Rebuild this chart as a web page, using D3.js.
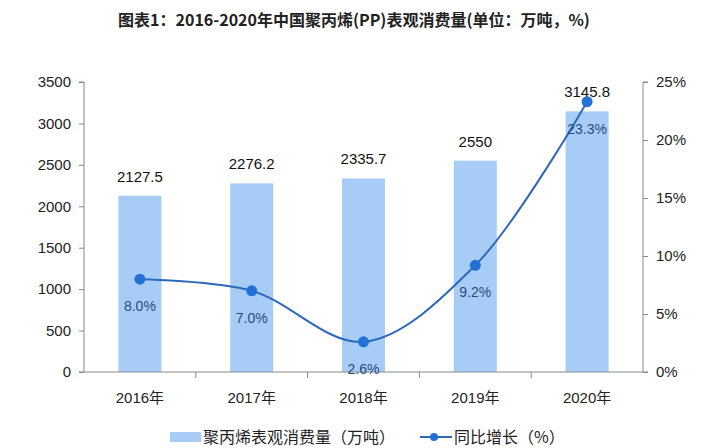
<!DOCTYPE html>
<html><head><meta charset="utf-8">
<script src="https://cdn.jsdelivr.net/npm/d3@7/dist/d3.min.js"></script>
<style>
html,body{margin:0;padding:0;background:#fff;}
svg{display:block;font-family:"Liberation Sans",Arial,"Noto Sans CJK SC",sans-serif;}
</style></head>
<body>
<svg id="chart" width="710" height="448"></svg>
<script>
const categories = ["2016年","2017年","2018年","2019年","2020年"];
const consumption = [2127.5, 2276.2, 2335.7, 2550, 3145.8];
const growth = [8.0, 7.0, 2.6, 9.2, 23.3];
const leftTicks = [0,500,1000,1500,2000,2500,3000,3500];
const rightTicks = [0,5,10,15,20,25];
const title = "图表1：2016-2020年中国聚丙烯(PP)表观消费量(单位：万吨，%)";
const legendBar = "聚丙烯表观消费量（万吨）";
const legendLine = "同比增长（%）";

const svg = d3.select("#chart");
const m = {left:84, right:643, top:82, bottom:372};

const xc = d3.scaleBand().domain(categories).range([m.left, m.right]);
const yL = d3.scaleLinear().domain([0,3500]).range([m.bottom, m.top]);
const yR = d3.scaleLinear().domain([0,25]).range([m.bottom, m.top]);

svg.append("text").attr("x",354).attr("y",26).attr("text-anchor","middle")
  .attr("font-family","'Noto Sans CJK SC',sans-serif").attr("font-weight","bold")
  .attr("font-size",16).attr("fill","#222").text(title);

// bars
svg.append("g").selectAll("rect").data(consumption).join("rect")
  .attr("x",(d,i)=>xc(categories[i])+xc.bandwidth()/2-21.5)
  .attr("width",43)
  .attr("y",d=>yL(d)).attr("height",d=>yL(0)-yL(d))
  .attr("fill","#a7cdf6");

// left axis
const gl = svg.append("g").attr("transform",`translate(${m.left},0)`)
  .call(d3.axisLeft(yL).tickValues(leftTicks).tickSize(5).tickPadding(8).tickFormat(d3.format("d")));
// right axis
const gr = svg.append("g").attr("transform",`translate(${m.right},0)`)
  .call(d3.axisRight(yR).tickValues(rightTicks).tickSize(5).tickPadding(8).tickFormat(d=>d+"%"));
// bottom axis
const gb = svg.append("g").attr("transform",`translate(0,${m.bottom})`)
  .call(d3.axisBottom(xc).tickSize(0).tickPadding(20));
gb.append("g").selectAll("line").data(d3.range(1,categories.length)).join("line")
  .attr("x1",i=>m.left+i*xc.step()).attr("x2",i=>m.left+i*xc.step())
  .attr("y1",0).attr("y2",6).attr("stroke","#888");
[gl,gr,gb].forEach(g=>{
  g.select(".domain").attr("stroke","#888");
  g.selectAll(".tick line").attr("stroke","#888");
  g.selectAll("text").attr("font-size",15).attr("fill","#222")
   .attr("font-family","'Liberation Sans',Arial,'Noto Sans CJK SC',sans-serif");
});
gl.select(".domain").attr("d",`M-5,${m.top}H0V${m.bottom}H-5`);
gr.select(".domain").attr("d",`M5,${m.top}H0V${m.bottom}H5`);
gb.select(".domain").attr("d",`M${m.left},0H${m.right}`);

// value labels
svg.append("g").selectAll("text").data(consumption).join("text")
  .attr("x",(d,i)=>xc(categories[i])+xc.bandwidth()/2)
  .attr("y",d=>yL(d)-14).attr("text-anchor","middle")
  .attr("font-size",15).attr("fill","#111").text(d=>d);

// line
const pts = growth.map((g,i)=>[xc(categories[i])+xc.bandwidth()/2, yR(g)]);
svg.append("path").attr("d",d3.line().curve(d3.curveCatmullRom.alpha(0.5))(pts))
  .attr("fill","none").attr("stroke","#2d68bd").attr("stroke-width",2);
svg.append("g").selectAll("circle").data(pts).join("circle")
  .attr("cx",d=>d[0]).attr("cy",d=>d[1]).attr("r",5.5).attr("fill","#2471d6");
svg.append("g").selectAll("text").data(growth).join("text")
  .attr("x",(d,i)=>pts[i][0]).attr("y",(d,i)=>pts[i][1]+32)
  .attr("text-anchor","middle").attr("font-size",14).attr("fill","#2a4a7c")
  .text(d=>d.toFixed(1)+"%");

// legend
const lg = svg.append("g");
lg.append("rect").attr("x",170).attr("y",432).attr("width",31).attr("height",10).attr("fill","#a7cdf6");
lg.append("text").attr("x",203).attr("y",443).attr("font-size",16).attr("fill","#222")
  .attr("font-family","'Noto Sans CJK SC',sans-serif").text(legendBar);
lg.append("line").attr("x1",420).attr("x2",452).attr("y1",437).attr("y2",437).attr("stroke","#2d68bd").attr("stroke-width",2);
lg.append("circle").attr("cx",434).attr("cy",437).attr("r",4).attr("fill","#2471d6");
lg.append("text").attr("x",454).attr("y",443).attr("font-size",16).attr("fill","#222")
  .attr("font-family","'Noto Sans CJK SC',sans-serif").text(legendLine);
</script>
</body></html>
